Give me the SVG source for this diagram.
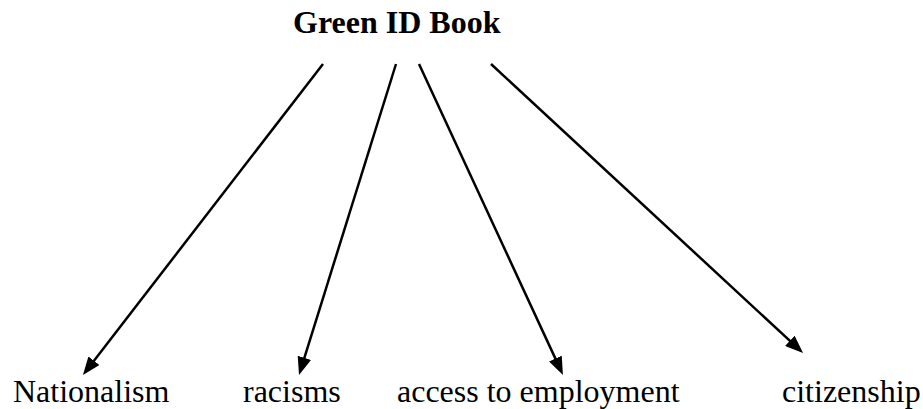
<svg xmlns="http://www.w3.org/2000/svg" width="923" height="409" viewBox="0 0 923 409">
<style>
text{font-family:'Liberation Serif','Times New Roman',Tinos,'DejaVu Serif',serif;font-size:32px;fill:#000}
.b{font-weight:bold}
.c{stroke:#000;stroke-width:2.5;fill:none}
</style>
<defs>
<marker id="ah" markerUnits="userSpaceOnUse" markerWidth="18" markerHeight="14" refX="5" refY="7" orient="auto">
<path d="M0,0 L18,7 L0,14 z" fill="#000"/>
</marker>
</defs>
<rect width="923" height="409" fill="#fff"/>
<g id="title"><text class="b" x="293" y="33">Green ID Book</text></g>
<g id="connectors">
<line class="c" x1="323" y1="64" x2="90.9" y2="364.7" marker-end="url(#ah)"/>
<line class="c" x1="396" y1="64" x2="302.9" y2="362.6" marker-end="url(#ah)"/>
<line class="c" x1="419" y1="64" x2="557.5" y2="363.1" marker-end="url(#ah)"/>
<line class="c" x1="491" y1="64" x2="793.5" y2="344.2" marker-end="url(#ah)"/>
</g>
<g id="nationalism"><text x="13" y="402">Nationalism</text></g>
<g id="racisms"><text x="243" y="402">racisms</text></g>
<g id="access"><text x="397" y="402">access to employment</text></g>
<g id="citizenship"><text x="782" y="402">citizenship</text></g>
</svg>
